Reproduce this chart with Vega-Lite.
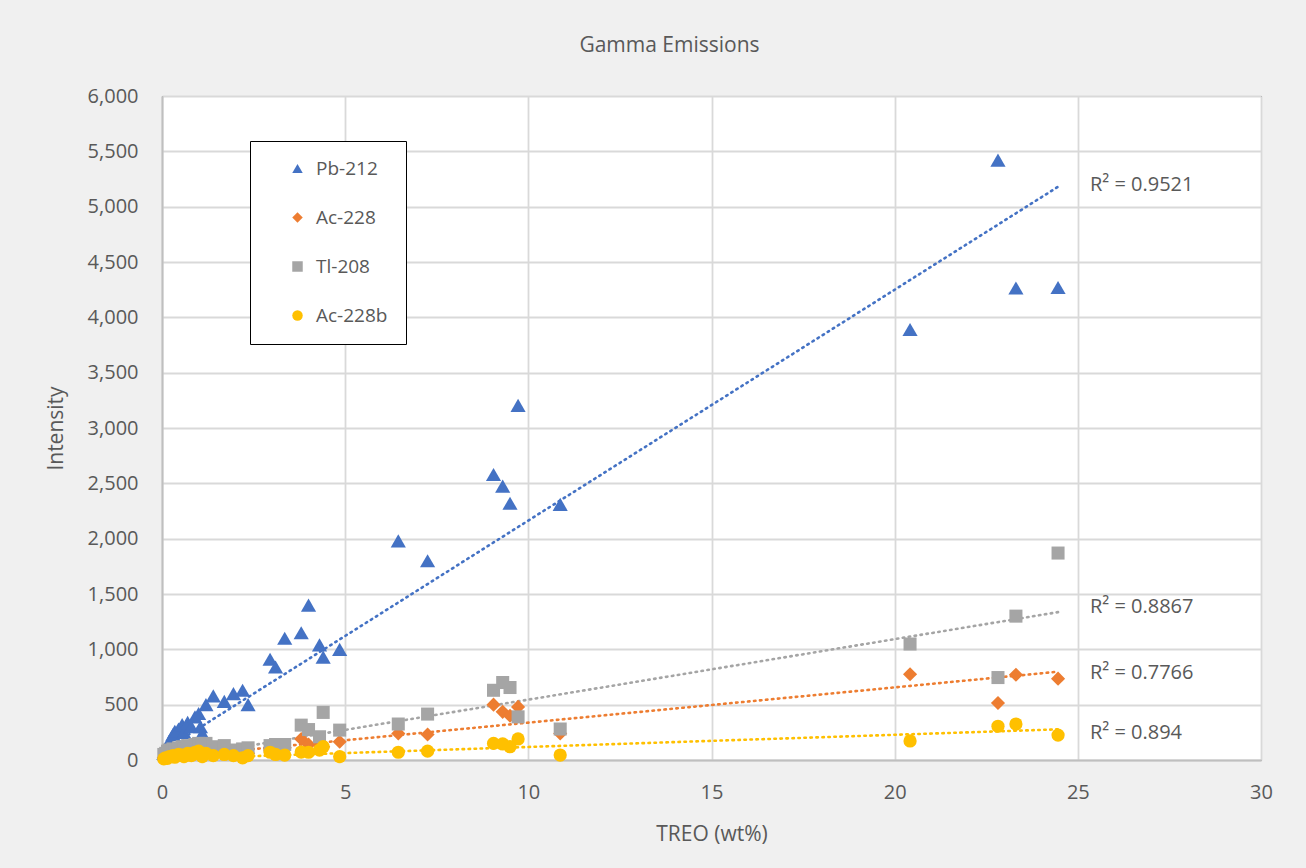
{
  "$schema": "https://vega.github.io/schema/vega-lite/v6.json",
  "width": 1099,
  "height": 664,
  "autosize": {"type": "none"},
  "padding": {"left": 162, "top": 96, "right": 45, "bottom": 108},
  "background": "#f0f0f0",
  "title": {"text": "Gamma Emissions", "fontSize": 21, "fontWeight": "normal", "color": "#595959", "font": "Open Sans", "anchor": "middle", "dx": -42, "offset": 30},
  "config": {
    "font": "Open Sans",
    "view": {"fill": "white", "stroke": "#333333", "strokeWidth": 1},
    "axis": {"labelFont": "Open Sans", "titleFont": "Open Sans", "labelFontSize": 20, "labelColor": "#595959", "titleFontSize": 21, "titleFontWeight": "normal", "titleColor": "#595959", "gridColor": "#d9d9d9", "gridWidth": 1.8, "domainColor": "#bfbfbf", "domainWidth": 2, "ticks": false, "labelFlush": false}
  },
  "datasets": {
    "samples": [
      {"treo": 0.05, "Pb-212": 60, "Ac-228": 20, "Tl-208": 50, "Ac-228b": 10},
      {"treo": 0.1, "Pb-212": 100, "Ac-228": 30, "Tl-208": 60, "Ac-228b": 20},
      {"treo": 0.15, "Pb-212": 130, "Ac-228": 40, "Tl-208": 80, "Ac-228b": 15},
      {"treo": 0.2, "Pb-212": 170, "Ac-228": 50, "Tl-208": 90, "Ac-228b": 30},
      {"treo": 0.3, "Pb-212": 230, "Ac-228": 60, "Tl-208": 100, "Ac-228b": 40},
      {"treo": 0.35, "Pb-212": 260, "Ac-228": 50, "Tl-208": 80, "Ac-228b": 25},
      {"treo": 0.45, "Pb-212": 280, "Ac-228": 70, "Tl-208": 110, "Ac-228b": 50},
      {"treo": 0.55, "Pb-212": 320, "Ac-228": 80, "Tl-208": 120, "Ac-228b": 45},
      {"treo": 0.6, "Pb-212": 250, "Ac-228": 60, "Tl-208": 100, "Ac-228b": 30},
      {"treo": 0.7, "Pb-212": 340, "Ac-228": 90, "Tl-208": 130, "Ac-228b": 60},
      {"treo": 0.8, "Pb-212": 300, "Ac-228": 80, "Tl-208": 120, "Ac-228b": 40},
      {"treo": 0.9, "Pb-212": 390, "Ac-228": 100, "Tl-208": 140, "Ac-228b": 70},
      {"treo": 1.0, "Pb-212": 420, "Ac-228": 110, "Tl-208": 150, "Ac-228b": 80},
      {"treo": 1.05, "Pb-212": 300, "Ac-228": 90, "Tl-208": 130, "Ac-228b": 50},
      {"treo": 1.1, "Pb-212": 240, "Ac-228": 70, "Tl-208": 110, "Ac-228b": 30},
      {"treo": 1.2, "Pb-212": 500, "Ac-228": 120, "Tl-208": 150, "Ac-228b": 60},
      {"treo": 1.4, "Pb-212": 580, "Ac-228": 100, "Tl-208": 120, "Ac-228b": 40},
      {"treo": 1.7, "Pb-212": 530, "Ac-228": 90, "Tl-208": 130, "Ac-228b": 50},
      {"treo": 1.95, "Pb-212": 600, "Ac-228": 80, "Tl-208": 90, "Ac-228b": 40},
      {"treo": 2.2, "Pb-212": 630, "Ac-228": 70, "Tl-208": 100, "Ac-228b": 20},
      {"treo": 2.35, "Pb-212": 500, "Ac-228": 60, "Tl-208": 110, "Ac-228b": 40},
      {"treo": 2.95, "Pb-212": 910, "Ac-228": 90, "Tl-208": 130, "Ac-228b": 70},
      {"treo": 3.1, "Pb-212": 840, "Ac-228": 100, "Tl-208": 140, "Ac-228b": 50},
      {"treo": 3.35, "Pb-212": 1100, "Ac-228": 110, "Tl-208": 140, "Ac-228b": 45},
      {"treo": 3.8, "Pb-212": 1150, "Ac-228": 190, "Tl-208": 315, "Ac-228b": 72},
      {"treo": 4.0, "Pb-212": 1400, "Ac-228": 140, "Tl-208": 275, "Ac-228b": 70},
      {"treo": 4.3, "Pb-212": 1040, "Ac-228": 130, "Tl-208": 210, "Ac-228b": 90},
      {"treo": 4.4, "Pb-212": 930, "Ac-228": 120, "Tl-208": 430, "Ac-228b": 120},
      {"treo": 4.85, "Pb-212": 1000, "Ac-228": 165, "Tl-208": 270, "Ac-228b": 30},
      {"treo": 6.45, "Pb-212": 1980, "Ac-228": 240, "Tl-208": 325, "Ac-228b": 70},
      {"treo": 7.25, "Pb-212": 1800, "Ac-228": 230, "Tl-208": 415, "Ac-228b": 80},
      {"treo": 9.05, "Pb-212": 2580, "Ac-228": 500, "Tl-208": 630, "Ac-228b": 150},
      {"treo": 9.3, "Pb-212": 2475, "Ac-228": 435, "Tl-208": 700, "Ac-228b": 145},
      {"treo": 9.5, "Pb-212": 2320, "Ac-228": 400, "Tl-208": 655, "Ac-228b": 120},
      {"treo": 9.72, "Pb-212": 3205, "Ac-228": 480, "Tl-208": 390, "Ac-228b": 190},
      {"treo": 10.87, "Pb-212": 2310, "Ac-228": 240, "Tl-208": 280, "Ac-228b": 45},
      {"treo": 20.42, "Pb-212": 3890, "Ac-228": 775, "Tl-208": 1048, "Ac-228b": 172},
      {"treo": 22.82, "Pb-212": 5420, "Ac-228": 515, "Tl-208": 745, "Ac-228b": 305},
      {"treo": 23.31, "Pb-212": 4265, "Ac-228": 770, "Tl-208": 1300, "Ac-228b": 325},
      {"treo": 24.46, "Pb-212": 4270, "Ac-228": 735, "Tl-208": 1870, "Ac-228b": 225}
    ],
    "trend": [
      {"series": "Pb-212", "treo": 0.02, "intensity": 82},
      {"series": "Pb-212", "treo": 24.46, "intensity": 5180},
      {"series": "Tl-208", "treo": 0.02, "intensity": 0},
      {"series": "Tl-208", "treo": 24.46, "intensity": 1336},
      {"series": "Ac-228", "treo": 0.02, "intensity": 20},
      {"series": "Ac-228", "treo": 24.46, "intensity": 798},
      {"series": "Ac-228b", "treo": 0.02, "intensity": 8},
      {"series": "Ac-228b", "treo": 24.46, "intensity": 277}
    ],
    "labels": [
      {"treo": 25.33, "intensity": 5196, "label": "R² = 0.9521"},
      {"treo": 25.33, "intensity": 1383, "label": "R² = 0.8867"},
      {"treo": 25.33, "intensity": 786, "label": "R² = 0.7766"},
      {"treo": 25.33, "intensity": 244, "label": "R² = 0.894"}
    ]
  },
  "encoding": {
    "x": {"field": "treo", "type": "quantitative", "scale": {"domain": [0, 30], "nice": false}, "axis": {"title": "TREO (wt%)", "values": [0, 5, 10, 15, 20, 25, 30], "labelPadding": 22, "titlePadding": 21}},
    "y": {"field": "intensity", "type": "quantitative", "scale": {"domain": [0, 6000], "nice": false}, "axis": {"title": "Intensity", "values": [0, 500, 1000, 1500, 2000, 2500, 3000, 3500, 4000, 4500, 5000, 5500, 6000], "format": ",d", "labelPadding": 24, "titlePadding": 21}}
  },
  "layer": [
    {
      "data": {"name": "trend"},
      "mark": {"type": "line", "strokeWidth": 2.6, "strokeCap": "round"},
      "encoding": {
        "detail": {"field": "series", "type": "nominal"},
        "strokeDash": {"value": [1.5, 4.5]},
        "stroke": {"field": "series", "type": "nominal", "legend": null, "scale": {"domain": ["Tl-208", "Pb-212", "Ac-228b", "Ac-228"], "range": ["#A5A5A5", "#4472C4", "#FFC000", "#ED7D31"]}}
      }
    },
    {
      "data": {"name": "samples"},
      "transform": [{"fold": ["Pb-212", "Ac-228", "Tl-208", "Ac-228b"], "as": ["series", "intensity"]}, {"filter": {"field": "series", "equal": "Pb-212"}}],
      "mark": {"type": "point", "filled": true, "opacity": 1, "size": 230},
      "encoding": {
        "color": {"field": "series", "type": "nominal", "title": null, "scale": {"domain": ["Pb-212", "Ac-228", "Tl-208", "Ac-228b"], "range": ["#4472C4", "#ED7D31", "#A5A5A5", "#FFC000"]},
          "legend": {"orient": "none", "legendX": 88, "legendY": 45, "fillColor": "white", "strokeColor": "#000000", "padding": 18, "labelFont": "Open Sans", "labelFontSize": 19, "labelColor": "#595959", "symbolSize": 110, "rowPadding": 29, "labelOffset": 9, "symbolOffset": 20, "symbolStrokeWidth": 0}},
        "shape": {"field": "series", "type": "nominal", "title": null, "scale": {"domain": ["Pb-212", "Ac-228", "Tl-208", "Ac-228b"], "range": ["triangle-up", "diamond", "square", "circle"]},
          "legend": {"orient": "none", "legendX": 88, "legendY": 45, "fillColor": "white", "strokeColor": "#000000", "padding": 18, "labelFont": "Open Sans", "labelFontSize": 19, "labelColor": "#595959", "symbolSize": 110, "rowPadding": 29, "labelOffset": 9, "symbolOffset": 20, "symbolStrokeWidth": 0}}
      }
    },
    {
      "data": {"name": "samples"},
      "transform": [{"fold": ["Pb-212", "Ac-228", "Tl-208", "Ac-228b"], "as": ["series", "intensity"]}, {"filter": {"field": "series", "equal": "Ac-228"}}],
      "mark": {"type": "point", "filled": true, "opacity": 1, "size": 200},
      "encoding": {
        "color": {"field": "series", "type": "nominal", "title": null},
        "shape": {"field": "series", "type": "nominal", "title": null}
      }
    },
    {
      "data": {"name": "samples"},
      "transform": [{"fold": ["Pb-212", "Ac-228", "Tl-208", "Ac-228b"], "as": ["series", "intensity"]}, {"filter": {"field": "series", "equal": "Tl-208"}}],
      "mark": {"type": "point", "filled": true, "opacity": 1, "size": 170},
      "encoding": {
        "color": {"field": "series", "type": "nominal", "title": null},
        "shape": {"field": "series", "type": "nominal", "title": null}
      }
    },
    {
      "data": {"name": "samples"},
      "transform": [{"fold": ["Pb-212", "Ac-228", "Tl-208", "Ac-228b"], "as": ["series", "intensity"]}, {"filter": {"field": "series", "equal": "Ac-228b"}}],
      "mark": {"type": "point", "filled": true, "opacity": 1, "size": 175},
      "encoding": {
        "color": {"field": "series", "type": "nominal", "title": null},
        "shape": {"field": "series", "type": "nominal", "title": null}
      }
    },
    {
      "data": {"name": "labels"},
      "mark": {"type": "text", "align": "left", "baseline": "middle", "fontSize": 20, "color": "#595959", "font": "Open Sans"},
      "encoding": {"text": {"field": "label"}}
    }
  ]
}
